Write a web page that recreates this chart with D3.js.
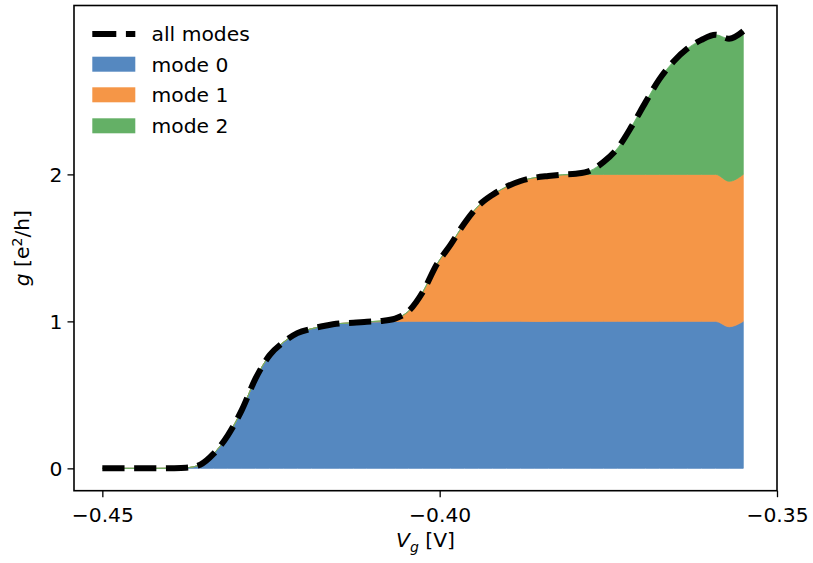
<!DOCTYPE html>
<html><head><meta charset="utf-8">
<script src="https://cdn.jsdelivr.net/npm/d3@7"></script>
<style>body{margin:0;background:#fff}svg{display:block}text{font-family:"DejaVu Sans",sans-serif;fill:#000}</style>
</head><body><svg id="c" width="813" height="563"></svg>
<script>
const vg = [-0.4500,-0.4479,-0.4459,-0.4438,-0.4417,-0.4397,-0.4376,-0.4355,-0.4335,-0.4314,-0.4293,-0.4273,-0.4252,-0.4231,-0.4211,-0.4190,-0.4170,-0.4149,-0.4128,-0.4108,-0.4087,-0.4066,-0.4046,-0.4025,-0.4004,-0.3984,-0.3963,-0.3942,-0.3922,-0.3901,-0.3880,-0.3860,-0.3839,-0.3818,-0.3798,-0.3777,-0.3757,-0.3736,-0.3715,-0.3695,-0.3674,-0.3653,-0.3633,-0.3612,-0.3591,-0.3571,-0.3550];
const mode0 = [0,0,0,0,0,0.001,0.004,0.025,0.10,0.225,0.40,0.61,0.77,0.86,0.92,0.95,0.97,0.985,0.99,0.995,0.997,0.999,1.0,1.0,1.0,1.0,1.0,0.999,1.0,1.0,1.0,0.999,0.999,1.0,1.0,1.0,1.0,1.0,1.0,1.0,1.0,1.0,1.0,1.0,1.0,0.963,1.0];
const mode1 = [0,0,0,0,0,0,0,0,0,0,0,0,0,0,0,0,0,0,0,0.002,0.006,0.02,0.07,0.20,0.39,0.52,0.67,0.79,0.86,0.916,0.955,0.978,0.99,0.996,0.998,1.0,1.0,1.0,1.0,1.0,1.0,1.0,1.0,1.0,1.0,0.99,1.0];
const mode2 = [0,0,0,0,0,0,0,0,0,0,0,0,0,0,0,0,0,0,0,0,0,0,0,0,0,0,0,0,0,0,0,0,0,0.002,0.006,0.025,0.085,0.18,0.33,0.49,0.65,0.77,0.855,0.915,0.95,0.97,0.975];
const seriesNames = ["mode 0","mode 1","mode 2"];
const colors = ["#5588c0","#f59647","#64b066"];
const xTicks = [-0.45,-0.40,-0.35];
const yTicks = [0,1,2];

const FS = 20.3;
const svg = d3.select("#c");
const L=74, R=777, T=5.5, B=490.7;
const x = d3.scaleLinear().domain([-0.4542,-0.35]).range([L,R]);
const y = d3.scaleLinear().domain([-0.152,3.149]).range([B,T]);

const rows = vg.map((v,i)=>({v, m0:mode0[i], m1:mode1[i], m2:mode2[i]}));
const stack = d3.stack().keys(["m0","m1","m2"])(rows);
const area = d3.area().x(d=>x(d.data.v)).y0(d=>y(d[0])).y1(d=>y(d[1])).curve(d3.curveMonotoneX);
svg.append("g").selectAll("path").data(stack).join("path")
  .attr("d",area).attr("fill",(d,i)=>colors[i]).attr("stroke",(d,i)=>colors[i]).attr("stroke-width",0.8);

const total = rows.map(r=>({v:r.v, t:r.m0+r.m1+r.m2}));
const line = d3.line().x(d=>x(d.v)).y(d=>y(d.t)).curve(d3.curveMonotoneX);
svg.append("path").attr("d",line(total)).attr("fill","none").attr("stroke","#000")
  .attr("stroke-width",6).attr("stroke-dasharray","22.2 9.6");

// frame
svg.append("rect").attr("x",L).attr("y",T).attr("width",R-L).attr("height",B-T)
  .attr("fill","none").attr("stroke","#000").attr("stroke-width",1.6);

const fmt = d=>(d<0?"\u2212":"")+Math.abs(d).toFixed(2);
const xa = svg.append("g").attr("transform",`translate(0,${B})`)
  .call(d3.axisBottom(x).tickValues(xTicks).tickFormat(fmt).tickSize(6.5).tickPadding(4));
const ya = svg.append("g").attr("transform",`translate(${L},0)`)
  .call(d3.axisLeft(y).tickValues(yTicks).tickFormat(d3.format("d")).tickSize(6.5).tickPadding(5));
[xa,ya].forEach(a=>{a.select(".domain").remove();a.selectAll("line").attr("stroke","#000").attr("stroke-width",1.3);
  a.selectAll("text").attr("font-size",FS).attr("font-family","DejaVu Sans").attr("fill","#000");});
xa.selectAll("text").attr("dy",null).attr("y",null).attr("transform","translate(0,31)");
ya.selectAll("text").attr("dy","0.36em");

// axis labels
const xl = svg.append("text").attr("x",(L+R)/2).attr("y",547).attr("text-anchor","middle").attr("font-size",FS);
xl.append("tspan").attr("font-style","italic").text("V");
xl.append("tspan").attr("font-style","italic").attr("font-size",14).attr("dy",5).text("g");
xl.append("tspan").attr("dy",-5).text(" [V]");
const yl = svg.append("text").attr("transform",`translate(29,${(T+B)/2}) rotate(-90)`).attr("text-anchor","middle").attr("font-size",FS);
yl.append("tspan").attr("font-style","italic").text("g");
yl.append("tspan").text(" [e");
yl.append("tspan").attr("font-size",14).attr("dy",-7).text("2");
yl.append("tspan").attr("dy",7).text("/h]");

// legend
const lg = svg.append("g");
const legY = [34,64.2,94.8,125.8];
lg.append("line").attr("x1",92.3).attr("x2",135.3).attr("y1",legY[0]).attr("y2",legY[0])
  .attr("stroke","#000").attr("stroke-width",6).attr("stroke-dasharray","24 9.6");
lg.append("text").attr("x",151.5).attr("y",legY[0]+7.3).attr("font-size",FS).text("all modes");
seriesNames.forEach((n,i)=>{
  lg.append("rect").attr("x",92.3).attr("y",legY[i+1]-7.5).attr("width",43).attr("height",15).attr("fill",colors[i]);
  lg.append("text").attr("x",151.5).attr("y",legY[i+1]+7.3).attr("font-size",FS).text(n);
});
</script></body></html>
